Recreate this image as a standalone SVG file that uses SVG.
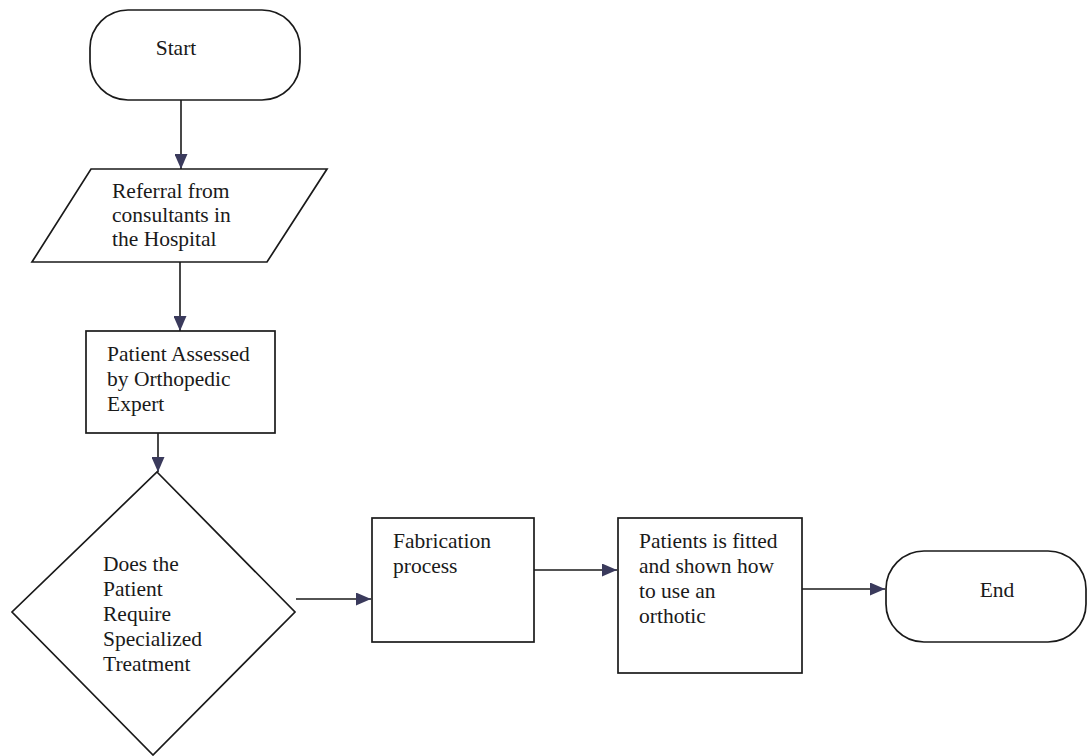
<svg xmlns="http://www.w3.org/2000/svg" width="1088" height="756" viewBox="0 0 1088 756">
<style>
.s{fill:#fff;stroke:#1a1a1a;stroke-width:1.7}
.c{fill:none;stroke:#1a1a1a;stroke-width:1.6}
text{font-family:"Liberation Serif","Times New Roman",serif;font-size:21.5px;fill:#1a1a1a}
</style>
<defs>
<marker id="ah" viewBox="0 0 15 13" refX="15" refY="6.5" markerWidth="15" markerHeight="13" markerUnits="userSpaceOnUse" orient="auto">
<path d="M0,0 L15,6.5 L0,13 Z" fill="#3a3a5c"/>
</marker>
</defs>
<rect width="1088" height="756" fill="#fff"/>
<g id="connectors">
<line class="c" x1="181" y1="100" x2="181" y2="169" marker-end="url(#ah)"/>
<line class="c" x1="180" y1="262" x2="180" y2="331" marker-end="url(#ah)"/>
<line class="c" x1="158" y1="433" x2="158" y2="472" marker-end="url(#ah)"/>
<line class="c" x1="296" y1="599" x2="371" y2="599" marker-end="url(#ah)"/>
<line class="c" x1="534" y1="570" x2="617" y2="570" marker-end="url(#ah)"/>
<line class="c" x1="802" y1="589" x2="885" y2="589" marker-end="url(#ah)"/>
</g>
<g id="start">
<rect class="s" x="90" y="10" width="210" height="90" rx="38" ry="38"/>
<text x="176" y="55" text-anchor="middle">Start</text>
</g>
<g id="referral">
<polygon class="s" points="91,169 327,169 267,262 32,262"/>
<text x="112" y="198">Referral from</text>
<text x="112" y="222">consultants in</text>
<text x="112" y="246">the Hospital</text>
</g>
<g id="assess">
<rect class="s" x="86" y="331" width="189" height="102"/>
<text x="107" y="361">Patient Assessed</text>
<text x="107" y="386">by Orthopedic</text>
<text x="107" y="411">Expert</text>
</g>
<g id="decision">
<polygon class="s" points="157,472 295,612 153,755 12,612"/>
<text x="103" y="571">Does the</text>
<text x="103" y="596">Patient</text>
<text x="103" y="621">Require</text>
<text x="103" y="646">Specialized</text>
<text x="103" y="671">Treatment</text>
</g>
<g id="fabrication">
<rect class="s" x="372" y="518" width="162" height="124"/>
<text x="393" y="548">Fabrication</text>
<text x="393" y="573">process</text>
</g>
<g id="fitting">
<rect class="s" x="618" y="518" width="184" height="155"/>
<text x="639" y="548">Patients is fitted</text>
<text x="639" y="573">and shown how</text>
<text x="639" y="598">to use an</text>
<text x="639" y="623">orthotic</text>
</g>
<g id="end">
<rect class="s" x="886" y="551" width="200" height="91" rx="38" ry="38"/>
<text x="997" y="597" text-anchor="middle">End</text>
</g>
</svg>
